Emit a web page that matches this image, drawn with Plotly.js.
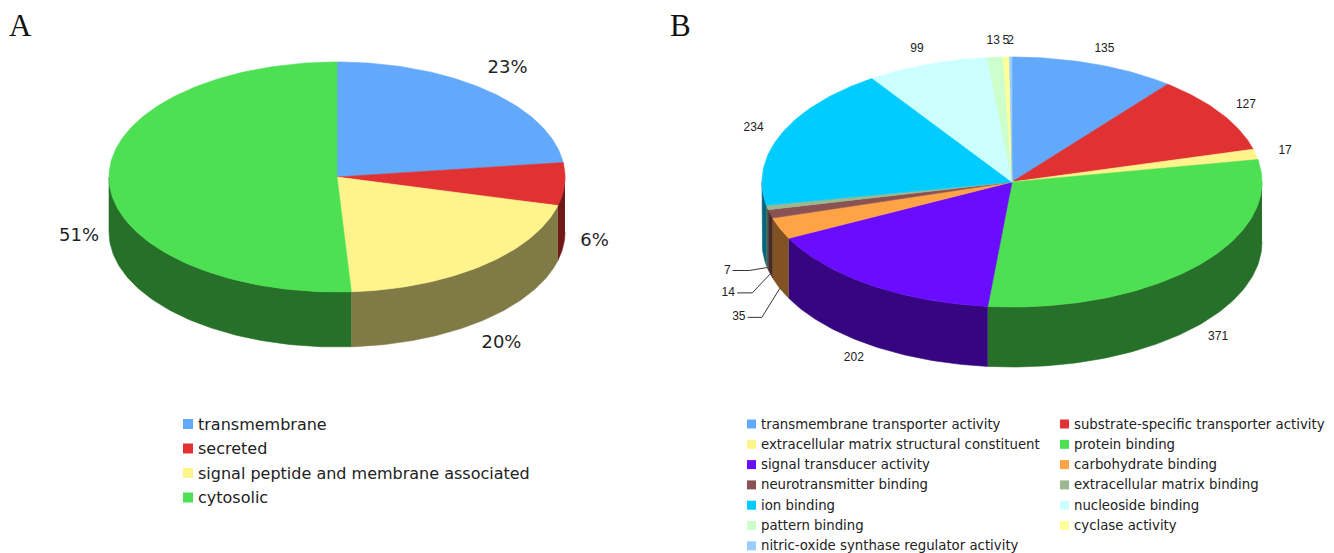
<!DOCTYPE html>
<html>
<head>
<meta charset="utf-8">
<script src="https://cdn.plot.ly/plotly-3.0.1.min.js"></script>
<style>
  html, body { margin: 0; padding: 0; background: #ffffff; }
  #chart { width: 1334px; height: 553px; }
</style>
</head>
<body>
<div id="chart"></div>
<script>
// Panel A: predicted subcellular localisation (percent of proteins)
const categoriesA = ['transmembrane', 'secreted', 'signal peptide and membrane associated', 'cytosolic'];
const valuesA = [23, 6, 20, 51];
const colorsA = ['#62a8fb', '#e03232', '#fff38c', '#4ce052'];

// Panel B: molecular function categories (protein counts)
const categoriesB = [
  'transmembrane transporter activity',
  'substrate-specific transporter activity',
  'extracellular matrix structural constituent',
  'protein binding',
  'signal transducer activity',
  'carbohydrate binding',
  'neurotransmitter binding',
  'extracellular matrix binding',
  'ion binding',
  'nucleoside binding',
  'pattern binding',
  'cyclase activity',
  'nitric-oxide synthase regulator activity'
];
const valuesB = [135, 127, 17, 371, 202, 35, 14, 7, 234, 99, 13, 5, 2];
const colorsB = ['#62a8fb', '#e03232', '#fff38c', '#4ce052', '#6a0cff', '#ffa347',
                 '#8a5252', '#9db891', '#00ccff', '#ccffff', '#ccffcc', '#ffff99', '#99ccff'];

// Drawing frame: one pair of axes spanning the page, 1 unit = 1 px, y downwards
const W = 1334, H = 553;
const geomA = {cx: 337, cy: 177, rx: 228, ry: 115, depth: 55, padX: 30, padY: 30};
const geomB = {cx: 1012, cy: 182, rx: 250, ry: 125, depth: 60, padX: 30, padY: 16};

// labels of the thin slices on the left of pie B are pulled out with leader lines
const leaderB = {
  'carbohydrate binding': [-41, 29],
  'neurotransmitter binding': [-42, 19],
  'extracellular matrix binding': [-40, 3]
};

function shade(hex, f) {
  const n = parseInt(hex.slice(1), 16);
  const r = Math.round(((n >> 16) & 255) * f);
  const g = Math.round(((n >> 8) & 255) * f);
  const b = Math.round((n & 255) * f);
  return 'rgb(' + r + ',' + g + ',' + b + ')';
}

// angle a is measured clockwise from 12 o'clock on the tilted disc
function pt(g, a, dz) {
  return [g.cx + g.rx * Math.sin(a), g.cy - g.ry * Math.cos(a) + (dz || 0)];
}

function arc(g, a0, a1, dz) {
  const steps = Math.max(2, Math.ceil(Math.abs(a1 - a0) / (Math.PI / 180)) + 1);
  const out = [];
  for (let k = 0; k <= steps; k++) {
    out.push(pt(g, a0 + (a1 - a0) * k / steps, dz));
  }
  return out;
}

function slicesOf(vals) {
  const total = vals.reduce((s, v) => s + v, 0);
  let acc = 0;
  return vals.map(v => {
    const a0 = acc / total * 2 * Math.PI;
    acc += v;
    const a1 = acc / total * 2 * Math.PI;
    return {a0, a1, mid: (a0 + a1) / 2, share: v / total};
  });
}

function polyTrace(points, color, name) {
  return {
    type: 'scatter', mode: 'lines', fill: 'toself',
    x: points.map(p => p[0]), y: points.map(p => p[1]),
    fillcolor: color, line: {color: color, width: 0.6},
    name: name, hoverinfo: 'name', showlegend: false
  };
}

function pieTraces(g, cats, vals, colors) {
  const sl = slicesOf(vals);
  const sides = [], tops = [];
  sl.forEach((s, i) => {
    // rim: only the front half of the disc (90..270 deg) is visible
    const s0 = Math.max(s.a0, Math.PI / 2), s1 = Math.min(s.a1, 3 * Math.PI / 2);
    if (s1 > s0) {
      const rim = arc(g, s0, s1, 0).concat(arc(g, s1, s0, g.depth));
      sides.push(polyTrace(rim, shade(colors[i], 0.5), cats[i]));
    }
    const top = [[g.cx, g.cy]].concat(arc(g, s.a0, s.a1, 0), [[g.cx, g.cy]]);
    tops.push(polyTrace(top, colors[i], cats[i]));
  });
  return sides.concat(tops);
}

function labelPos(g, a) {
  const front = Math.cos(a) < 0;
  return [g.cx + (g.rx + g.padX) * Math.sin(a),
          g.cy - (g.ry + g.padY) * Math.cos(a) + (front ? g.depth : 0)];
}

const traces = [];
traces.push(...pieTraces(geomA, categoriesA, valuesA, colorsA));
traces.push(...pieTraces(geomB, categoriesB, valuesB, colorsB));

// percentage labels of pie A
const slA = slicesOf(valuesA);
const posA = slA.map(s => labelPos(geomA, s.mid));
traces.push({
  type: 'scatter', mode: 'text',
  x: posA.map(p => p[0]), y: posA.map(p => p[1]),
  text: slA.map(s => Math.round(s.share * 100) + '%'),
  textposition: 'middle center',
  textfont: {family: 'DejaVu Sans', size: 18, color: '#1f1f1f'},
  hoverinfo: 'skip', showlegend: false
});

// count labels of pie B
const slB = slicesOf(valuesB);
const lbX = [], lbY = [], lbT = [];
slB.forEach((s, i) => {
  const off = leaderB[categoriesB[i]];
  if (off) {
    const tip = pt(geomB, s.mid, geomB.depth);
    const lx = tip[0] + off[0], ly = tip[1] + off[1];
    lbX.push(lx); lbY.push(ly); lbT.push(String(valuesB[i]));
    const halfW = String(valuesB[i]).length * 3.4;
    traces.push({
      type: 'scatter', mode: 'lines',
      x: [lx + halfW + 2, tip[0] - 18, tip[0]],
      y: [ly, ly, tip[1]],
      line: {color: '#333333', width: 1},
      hoverinfo: 'skip', showlegend: false
    });
  } else {
    const p = labelPos(geomB, s.mid);
    lbX.push(p[0]); lbY.push(p[1]); lbT.push(String(valuesB[i]));
  }
});
traces.push({
  type: 'scatter', mode: 'text',
  x: lbX, y: lbY, text: lbT,
  textposition: 'middle center',
  textfont: {family: 'Liberation Sans', size: 12, color: '#222222'},
  hoverinfo: 'skip', showlegend: false
});

// legends drawn as swatch squares with text beside them
const shapes = [];
const annotations = [];

function legendRow(x, y, size, color, text, fontSize) {
  shapes.push({
    type: 'rect', xref: 'x', yref: 'y',
    x0: x, x1: x + size, y0: y - size / 2, y1: y + size / 2,
    fillcolor: color, line: {width: 0}
  });
  annotations.push({
    xref: 'x', yref: 'y', x: x + size + 3, y: y,
    xanchor: 'left', yanchor: 'middle', showarrow: false,
    text: text, font: {family: 'DejaVu Sans', size: fontSize, color: '#222222'}
  });
}

categoriesA.forEach((c, i) => legendRow(183, 424 + i * 24.5, 10, colorsA[i], c, 16));
categoriesB.forEach((c, i) => {
  const col = i % 2, row = Math.floor(i / 2);
  legendRow(col === 0 ? 747 : 1060, 424 + row * 20.3, 9, colorsB[i], c, 13.3);
});

// panel letters
annotations.push({xref: 'x', yref: 'y', x: 20, y: 25, showarrow: false, text: 'A',
  font: {family: 'Liberation Serif', size: 31, color: '#111111'}});
annotations.push({xref: 'x', yref: 'y', x: 680, y: 25, showarrow: false, text: 'B',
  font: {family: 'Liberation Serif', size: 31, color: '#111111'}});

const hidden = {visible: false, showgrid: false, zeroline: false, fixedrange: true, autorange: false};

Plotly.newPlot('chart', traces, {
  width: W, height: H,
  margin: {l: 0, r: 0, t: 0, b: 0},
  paper_bgcolor: '#ffffff', plot_bgcolor: '#ffffff',
  xaxis: Object.assign({range: [0, W]}, hidden),
  yaxis: Object.assign({range: [H, 0]}, hidden),
  showlegend: false,
  shapes: shapes,
  annotations: annotations,
  hovermode: 'closest'
}, {displayModeBar: false, staticPlot: true});
</script>
</body>
</html>
